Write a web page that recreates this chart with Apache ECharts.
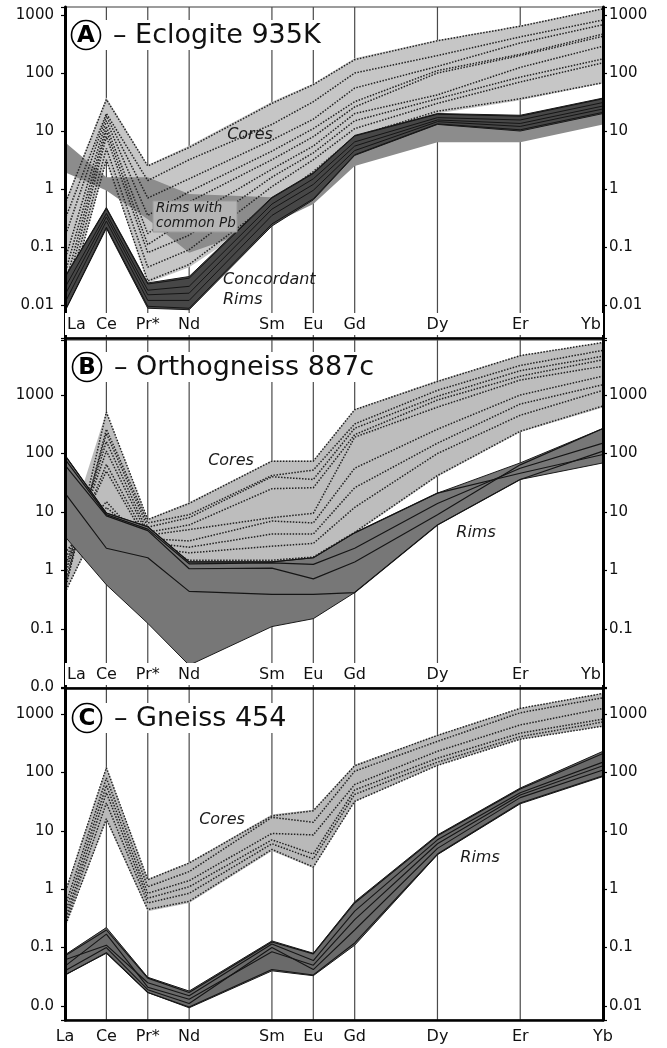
<!DOCTYPE html>
<html><head><meta charset="utf-8">
<script src="https://cdn.jsdelivr.net/npm/echarts@6/dist/echarts.min.js"></script>
<style>html,body{margin:0;padding:0;background:#fff}#c{width:667px;height:1048px}</style>
</head><body><div id="c"></div>
<script>
// ---------- DATA ----------
const elements = ['La','Ce','Pr*','Nd','Sm','Eu','Gd','Dy','Er','Yb'];
const atomicNumbers = [57,58,59,60,62,63,64,66,68,70];
const tickValues = [0.01,0.1,1,10,100,1000];
const aLeftLabels  = ['0.01','0.1','1','10','100','1000'];
const aRightLabels = ['0.01','0.1','1','10','100','1000'];
const bLeftLabels  = ['0.0','0.1','1','10','100','1000'];
const bRightLabels = ['','0.1','1','10','100','1000'];
const cLeftLabels  = ['0.0','0.1','1','10','100','1000'];
const cRightLabels = ['0.01','0.1','1','10','100','1000'];

// Panel A - Eclogite 935K
const aCoreUpper = [0.6, 38, 2.6, 5.6, 32, 66, 180, 370, 660, 1320];
const aCoreLower = [0.008, 3, 0.024, 0.045, 0.4, 1.2, 7, 20, 34, 66];
const aCoreLines = [
  [0.55, 35, 2.5, 5.2, 30, 63, 170, 360, 640, 1280],
  [0.3, 20, 1.4, 3.2, 13, 32, 100, 200, 420, 820],
  [0.15, 18, 0.7, 1.5, 7, 16, 55, 130, 330, 680],
  [0.06, 15, 0.35, 0.9, 4.5, 11, 32, 110, 210, 470],
  [0.035, 12, 0.17, 0.6, 3.2, 8, 26, 100, 200, 430],
  [0.022, 10, 0.11, 0.32, 2.2, 5.5, 20, 42, 125, 290],
  [0.015, 8, 0.08, 0.16, 1.6, 4.2, 15, 36, 85, 175],
  [0.011, 5, 0.045, 0.09, 1.1, 3.2, 11, 30, 70, 150],
  [0.008, 3.2, 0.026, 0.05, 0.6, 2, 8, 22, 36, 68]
];
const aPbUpper = [6.4, 1.6, 1.6, 0.82, 0.72, 1.6, 6, 15, 14, 30];
const aPbLower = [1.95, 0.94, 0.3, 0.08, 0.25, 0.55, 2.5, 6.4, 6.4, 13];
const aRimUpper = [0.031, 0.48, 0.024, 0.031, 0.72, 1.9, 8.4, 20, 18.7, 37];
const aRimLower = [0.0078, 0.21, 0.0088, 0.0083, 0.23, 0.65, 3.8, 13, 10, 20];
const aRimLines = [
  [0.03, 0.46, 0.023, 0.029, 0.7, 1.85, 8.2, 19.5, 18, 36],
  [0.02, 0.38, 0.018, 0.021, 0.55, 1.5, 6.5, 17, 15.5, 31],
  [0.015, 0.33, 0.015, 0.016, 0.45, 1.2, 5.5, 15.5, 13.5, 27],
  [0.011, 0.28, 0.012, 0.012, 0.35, 0.95, 4.6, 14.5, 12, 24],
  [0.008, 0.22, 0.0095, 0.0088, 0.25, 0.68, 3.9, 13.3, 10.5, 21]
];

// Panel B - Orthogneiss 887c
const bCoreUpper = [3, 520, 7.6, 14.7, 76, 76, 575, 1770, 4800, 8000];
const bCoreLower = [0.42, 10, 4.5, 1.4, 1.3, 1.5, 4.3, 40, 230, 610];
const bCoreLines = [
  [0.45, 510, 7.4, 14, 74, 74, 560, 1700, 4700, 7900],
  [0.5, 260, 6.5, 9, 42, 52, 320, 1200, 3200, 5800],
  [0.6, 220, 5.5, 8, 40, 36, 270, 950, 2600, 4600],
  [0.8, 160, 4.5, 6, 25, 26, 210, 820, 2100, 4000],
  [1, 110, 4, 5, 8, 9.5, 190, 620, 1800, 3100],
  [1.2, 65, 3.5, 3.2, 7, 6.5, 56, 260, 1000, 2100],
  [1.5, 50, 3, 2.5, 4.2, 4.2, 26, 150, 700, 1500],
  [2, 15, 2.5, 2, 2.6, 2.9, 12, 100, 450, 1200],
  [0.42, 12, 3, 1.5, 1.5, 1.7, 4.5, 42, 240, 650]
];
const bRimUpper = [93, 9.6, 5.6, 1.4, 1.4, 1.65, 4.4, 21, 69, 268];
const bRimLower = [3.8, 0.57, 0.125, 0.024, 0.11, 0.15, 0.42, 6, 36, 69];
const bRimLines = [
  [93, 9.6, 5.6, 1.4, 1.4, 1.65, 4.4, 21, 46, 96],
  [80, 9, 5.1, 1.3, 1.35, 1.27, 2.4, 14, 56, 150],
  [63, 8.6, 4.8, 1.07, 1.1, 0.72, 1.4, 9, 64, 268],
  [21, 2.4, 1.65, 0.44, 0.39, 0.39, 0.42, 6, 36, 110]
];

// Panel C - Gneiss 454
const cCoreUpper = [0.9, 126, 1.5, 2.9, 19, 23, 135, 440, 1270, 2300];
const cCoreLower = [0.22, 15, 0.42, 0.58, 4.5, 2.3, 31, 130, 365, 610];
const cCoreLines = [
  [0.85, 120, 1.45, 2.8, 18, 22, 130, 430, 1250, 2250],
  [0.5, 80, 1.1, 2, 17, 14, 105, 340, 1050, 1900],
  [0.38, 60, 0.85, 1.4, 9, 8.5, 62, 230, 650, 1250],
  [0.3, 45, 0.7, 1.1, 7, 4, 50, 175, 470, 820],
  [0.26, 30, 0.58, 0.85, 6, 3.3, 42, 150, 410, 730],
  [0.23, 16, 0.45, 0.62, 4.8, 2.4, 32, 132, 370, 620]
];
const cRimUpper = [0.075, 0.22, 0.031, 0.018, 0.13, 0.08, 0.61, 8.5, 54, 230];
const cRimLower = [0.034, 0.08, 0.017, 0.0093, 0.04, 0.033, 0.11, 3.9, 29, 85];
const cRimLines = [
  [0.072, 0.2, 0.03, 0.017, 0.125, 0.078, 0.58, 8.2, 52, 210],
  [0.062, 0.11, 0.025, 0.015, 0.115, 0.06, 0.42, 7, 45, 150],
  [0.048, 0.17, 0.021, 0.013, 0.085, 0.05, 0.3, 6, 41, 130],
  [0.04, 0.1, 0.019, 0.011, 0.1, 0.042, 0.2, 5, 37, 110],
  [0.034, 0.082, 0.017, 0.0096, 0.042, 0.034, 0.12, 4, 30, 88]
];

// ---------- CHART ----------
const FONT = 'DejaVu Sans';
const chart = echarts.init(document.getElementById('c'));

const panels = [
  {top:7,   height:331, yMin:0.0027, yMax:1375, leftL:aLeftLabels, rightL:aRightLabels, inside:true},
  {top:340, height:348, yMin:0.0098, yMax:8710, leftL:bLeftLabels, rightL:bRightLabels, inside:true},
  {top:688, height:332, yMin:0.00575, yMax:2790, leftL:cLeftLabels, rightL:cRightLabels, inside:false}
];

function labelFor(list) {
  return function (v) {
    for (let i = 0; i < tickValues.length; i++) {
      if (Math.abs(v - tickValues[i]) / tickValues[i] < 1e-6) return list[i];
    }
    return '';
  };
}

const grids = [], xAxes = [], yAxes = [];
panels.forEach((p, gi) => {
  grids.push({left:65, right:64, top:p.top, height:p.height, show:true,
    borderColor:'#3a3a3a', borderWidth:1.2, backgroundColor:'transparent', containLabel:false});
  xAxes.push({
    type:'value', gridIndex:gi, min:57, max:70, interval:1, z:10,
    axisLine:{show:true, lineStyle:{color:'#000', width:2.5}},
    axisTick:{show:false}, splitLine:{show:false},
    axisLabel:{
      inside:p.inside, margin:p.inside ? 3 : 9,
      color:'#111', fontFamily:FONT, fontSize:16,
      backgroundColor:p.inside ? '#fff' : 'transparent',
      padding:p.inside ? [4,2,2,2] : 0,
      alignMinLabel:p.inside ? 'left' : 'center',
      alignMaxLabel:p.inside ? 'right' : 'center',
      showMinLabel:true, showMaxLabel:true,
      formatter:(v) => { const i = atomicNumbers.indexOf(Math.round(v)); return i >= 0 ? elements[i] : ''; }
    }
  });
  [['left', p.leftL], ['right', p.rightL]].forEach(([pos, list]) => {
    yAxes.push({
      type:'log', logBase:10, gridIndex:gi, position:pos, min:p.yMin, max:p.yMax, z:10,
      axisLine:{show:true, lineStyle:{color:'#000', width:3}},
      axisTick:{show:true, length:4, lineStyle:{color:'#000', width:1.2}},
      splitLine:{show:false}, minorTick:{show:false},
      axisLabel:{color:'#111', fontFamily:FONT, fontSize:15, margin:pos === 'left' ? 11 : 6,
        showMinLabel:true, showMaxLabel:true, formatter:labelFor(list)}
    });
  });
});

const series = [];
function toPairs(arr) { return arr.map((v, i) => [atomicNumbers[i], v]); }
function vlines(gi) {
  series.push({
    type:'custom', xAxisIndex:gi, yAxisIndex:gi*2, silent:true, z:1, animation:false,
    data: atomicNumbers.map(z => [z, 1]),
    renderItem:(params, api) => {
      const x = api.coord([api.value(0), 1])[0];
      const cs = params.coordSys;
      return {type:'line', shape:{x1:x, y1:cs.y, x2:x, y2:cs.y + cs.height},
        style:{stroke:'#4a4a4a', lineWidth:1.2}};
    }
  });
}
function band(gi, upper, lower, fill, stroke, z) {
  series.push({
    type:'custom', xAxisIndex:gi, yAxisIndex:gi*2, silent:true, z:z, clip:true, animation:false,
    data: toPairs(upper),
    renderItem:(params, api) => {
      if (params.dataIndex !== 0) return null;
      const pts = [];
      for (let i = 0; i < atomicNumbers.length; i++) pts.push(api.coord([atomicNumbers[i], upper[i]]));
      for (let i = atomicNumbers.length - 1; i >= 0; i--) pts.push(api.coord([atomicNumbers[i], lower[i]]));
      return {type:'polygon', shape:{points:pts},
        style:{fill:fill, stroke:stroke || null, lineWidth:stroke ? 1 : 0}};
    }
  });
}
function lines(gi, arr, color, type, width, z) {
  arr.forEach(vals => series.push({
    type:'line', xAxisIndex:gi, yAxisIndex:gi*2, data:toPairs(vals), symbol:'none',
    silent:true, z:z, animation:false,
    lineStyle:{color:color, width:width, type:type}
  }));
}

// A
vlines(0);
band(0, aCoreUpper, aCoreLower, '#c6c6c6', null, 2);
band(0, aPbUpper, aPbLower, '#8c8c8c', null, 3);
lines(0, aCoreLines, '#222', 'dotted', 1.5, 4);
band(0, aRimUpper, aRimLower, '#474747', '#1a1a1a', 5);
lines(0, aRimLines, '#151515', 'solid', 1, 6);
// B
vlines(1);
band(1, bCoreUpper, bCoreLower, '#bdbdbd', null, 2);
lines(1, bCoreLines, '#222', 'dotted', 1.5, 4);
band(1, bRimUpper, bRimLower, '#777777', '#1a1a1a', 5);
lines(1, bRimLines, '#151515', 'solid', 1.2, 6);
// C
vlines(2);
band(2, cCoreUpper, cCoreLower, '#b9b9b9', null, 2);
lines(2, cCoreLines, '#222', 'dotted', 1.5, 4);
band(2, cRimUpper, cRimLower, '#6a6a6a', '#1a1a1a', 5);
lines(2, cRimLines, '#151515', 'solid', 1.1, 6);

// ---------- ANNOTATIONS ----------
const titles = [
  {letter:'A', text:'– Eclogite 935K', cx:86, cy:35, w:262},
  {letter:'B', text:'– Orthogneiss 887c', cx:87, cy:367, w:312},
  {letter:'C', text:'– Gneiss 454', cx:87, cy:718, w:206}
];
const graphic = [];
titles.forEach(t => {
  graphic.push({type:'rect', z:100, shape:{x:t.cx - 16, y:t.cy - 15, width:t.w, height:30}, style:{fill:'#fff'}});
  graphic.push({type:'circle', z:101, shape:{cx:t.cx, cy:t.cy, r:14.5}, style:{fill:'#fff', stroke:'#000', lineWidth:1.6}});
  graphic.push({type:'text', z:102, x:t.cx, y:t.cy + 1, style:{text:t.letter, fontFamily:FONT, fontWeight:'bold',
    fontSize:23, fill:'#000', align:'center', verticalAlign:'middle'}});
  graphic.push({type:'text', z:102, x:t.cx + 27, y:t.cy + 1, style:{text:t.text, fontFamily:FONT,
    fontSize:27, fill:'#111', align:'left', verticalAlign:'middle'}});
});
const notes = [
  {text:'Cores', x:250, y:135, align:'center'},
  {text:'Concordant', x:223, y:280, align:'left'},
  {text:'Rims', x:223, y:300, align:'left'},
  {text:'Cores', x:231, y:461, align:'center'},
  {text:'Rims', x:476, y:533, align:'center'},
  {text:'Cores', x:222, y:820, align:'center'},
  {text:'Rims', x:480, y:858, align:'center'}
];
notes.forEach(n => graphic.push({type:'text', z:90, x:n.x, y:n.y, style:{text:n.text, fontFamily:FONT,
  fontStyle:'italic', fontSize:16, fill:'#1a1a1a', align:n.align, verticalAlign:'middle'}}));
graphic.push({type:'rect', z:90, shape:{x:153, y:201, width:84, height:31}, style:{fill:'#b4b4b4', stroke:'#9a9a9a', lineWidth:1}});
graphic.push({type:'text', z:91, x:156, y:208.5, style:{text:'Rims with', fontFamily:FONT, fontStyle:'italic', fontSize:13.5, fill:'#1a1a1a', align:'left', verticalAlign:'middle'}});
graphic.push({type:'text', z:91, x:156, y:223.5, style:{text:'common Pb', fontFamily:FONT, fontStyle:'italic', fontSize:13.5, fill:'#1a1a1a', align:'left', verticalAlign:'middle'}});

chart.setOption({
  animation:false,
  backgroundColor:'#fff',
  grid:grids, xAxis:xAxes, yAxis:yAxes, series:series, graphic:graphic
});
</script></body></html>
